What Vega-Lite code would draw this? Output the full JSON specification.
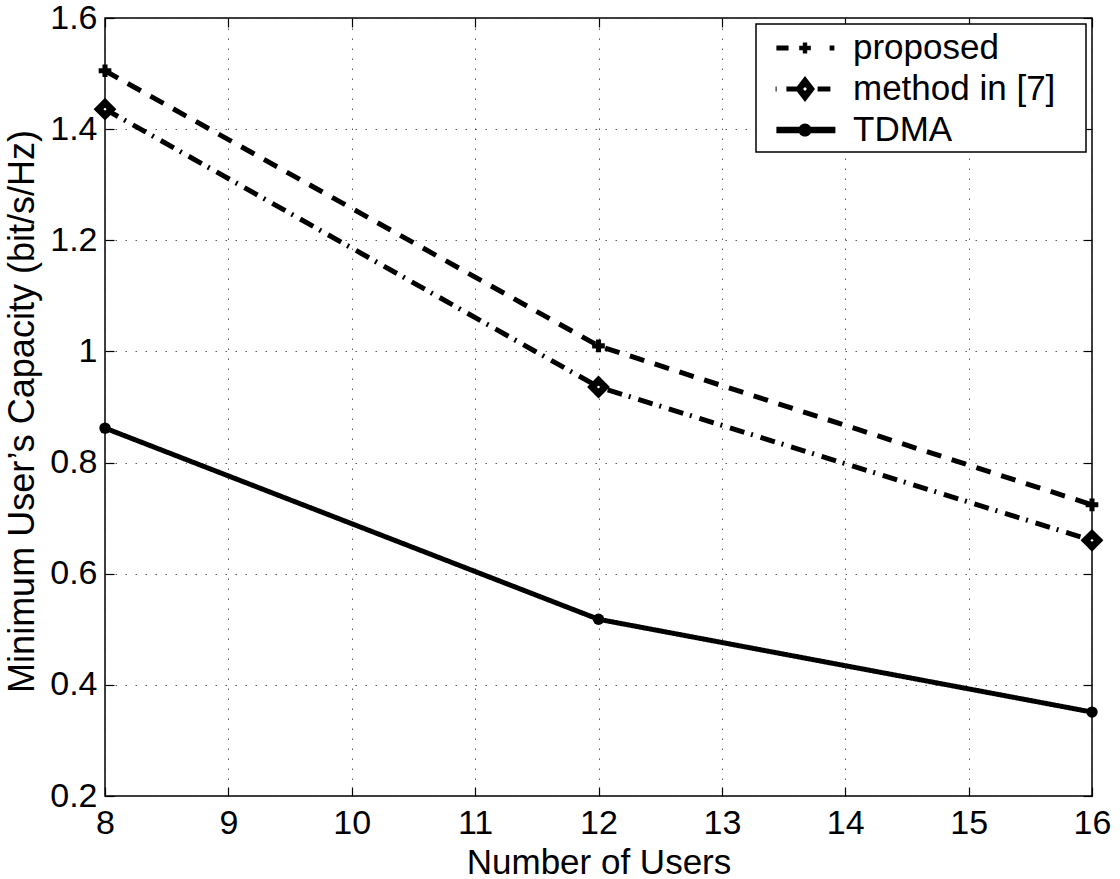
{
  "$schema": "https://vega.github.io/schema/vega-lite/v6.json",
  "width": 987,
  "height": 778,
  "autosize": {"type": "none"},
  "padding": {"left": 105, "top": 18, "right": 28, "bottom": 83},
  "background": "white",
  "config": {
    "font": "Liberation Sans",
    "view": {"stroke": "black", "strokeWidth": 1.5},
    "axis": {
      "labelFont": "Liberation Sans",
      "titleFont": "Liberation Sans",
      "labelFontSize": 34,
      "titleFontSize": 35,
      "titleFontWeight": "normal",
      "labelColor": "black",
      "titleColor": "black",
      "labelFlush": false,
      "labelOverlap": false,
      "domain": false,
      "tickColor": "black",
      "tickWidth": 1.2,
      "tickSize": -9,
      "gridColor": "#333",
      "gridDash": [1.5, 8.5],
      "gridWidth": 1,
      "gridOpacity": 0.8
    }
  },
  "data": {
    "values": [
      {"users": 8, "capacity": 1.505, "series": "proposed"},
      {"users": 12, "capacity": 1.01, "series": "proposed"},
      {"users": 16, "capacity": 0.724, "series": "proposed"},
      {"users": 8, "capacity": 1.436, "series": "method in [7]"},
      {"users": 12, "capacity": 0.936, "series": "method in [7]"},
      {"users": 16, "capacity": 0.66, "series": "method in [7]"},
      {"users": 8, "capacity": 0.862, "series": "TDMA"},
      {"users": 12, "capacity": 0.518, "series": "TDMA"},
      {"users": 16, "capacity": 0.351, "series": "TDMA"}
    ]
  },
  "layer": [
    {
      "mark": {"type": "line", "color": "black", "strokeWidth": 5, "strokeCap": "butt"},
      "encoding": {
        "x": {"field": "users", "type": "quantitative",
              "scale": {"domain": [8, 16], "nice": false, "zero": false},
              "axis": {"orient": "bottom", "values": [8,9,10,11,12,13,14,15,16], "format": "d",
                       "title": "Number of Users", "labelPadding": 19, "titlePadding": 5, "grid": true}},
        "y": {"field": "capacity", "type": "quantitative",
              "scale": {"domain": [0.2, 1.6], "nice": false, "zero": false},
              "axis": {"orient": "left", "values": [0.2,0.4,0.6,0.8,1,1.2,1.4,1.6], "format": "~g",
                       "title": "Minimum User’s Capacity (bit/s/Hz)", "titleFontSize": 36, "titleY": 393,
                       "labelPadding": 17, "titlePadding": 8, "grid": true}},
        "strokeDash": {"field": "series", "type": "nominal",
                       "scale": {"domain": ["proposed", "method in [7]", "TDMA"],
                                 "range": [[15, 11], [15, 7, 2, 8], [1, 0]]},
                       "legend": {
                         "title": null,
                         "orient": "top-right",
                         "offset": 6,
                         "padding": 4,
                         "strokeColor": "black",
                         "fillColor": "white",
                         "cornerRadius": 0,
                         "labelFont": "Liberation Sans",
                         "labelFontSize": 35,
                         "labelColor": "black",
                         "labelBaseline": "middle",
                         "labelLimit": 500,
                         "labelExpr": "datum.label + '\u2800'",
                         "symbolSize": 1600,
                         "symbolOffset": 25,
                         "labelOffset": 28,
                         "rowPadding": 3,
                         "symbolType": "circle",
                         "symbolFillColor": "black",
                         "symbolStrokeColor": "transparent",
                         "symbolStrokeWidth": 0,
                         "symbolOpacity": 1,
                         "symbolDash": [],
                         "encode": {
                           "legend": {"update": {"strokeWidth": {"value": 1.5}}},
                           "symbols": {
                             "update": {
                               "shape": {"signal": "datum.value == 'proposed' ? 'M-1.43,-0.13H-0.82V0.13H-1.43Z M-0.29,-0.11H0.29V0.11H-0.29Z M-0.11,-0.28H0.11V0.28H-0.11Z M1.23,-0.13H1.47V0.13H1.23Z' : datum.value == 'TDMA' ? 'M-1.43,-0.16H1.52V0.16H-1.43Z M-0.33,0 A0.33,0.33 0 1,1 0.33,0 A0.33,0.33 0 1,1 -0.33,0 Z' : 'M-1.47,-0.13H-1.42V0.13H-1.47Z M-0.93,-0.13H-0.4V0.13H-0.93Z M0,-0.65 L0.5,0 L0,0.65 L-0.5,0 Z M0,-0.1 L-0.1,0 L0,0.1 L0.1,0 Z M0.63,-0.13H1.27V0.13H0.63Z'"},
                               "size": {"value": 1600},
                               "fill": {"value": "black"},
                               "fillOpacity": {"value": 1},
                               "stroke": {"value": "transparent"},
                               "strokeWidth": {"value": 0},
                               "strokeDash": {"value": []},
                               "opacity": {"value": 1}
                             }
                           }
                         }
                       }}
      }
    },
    {
      "transform": [{"filter": "datum.series == 'proposed'"}],
      "mark": {"type": "point", "filled": true, "color": "black", "opacity": 1, "shape": "cross", "size": 160},
      "encoding": {
        "x": {"field": "users", "type": "quantitative", "axis": null},
        "y": {"field": "capacity", "type": "quantitative", "axis": null}
      }
    },
    {
      "transform": [{"filter": "datum.series == 'method in [7]'"}],
      "mark": {"type": "point", "filled": true, "color": "black", "opacity": 1, "shape": "diamond", "size": 520},
      "encoding": {
        "x": {"field": "users", "type": "quantitative", "axis": null},
        "y": {"field": "capacity", "type": "quantitative", "axis": null}
      }
    },
    {
      "transform": [{"filter": "datum.series == 'TDMA'"}],
      "mark": {"type": "point", "filled": true, "color": "black", "opacity": 1, "shape": "circle", "size": 130},
      "encoding": {
        "x": {"field": "users", "type": "quantitative", "axis": null},
        "y": {"field": "capacity", "type": "quantitative", "axis": null}
      }
    },
    {
      "transform": [{"filter": "datum.series == 'method in [7]'"}],
      "mark": {"type": "point", "filled": true, "color": "white", "opacity": 1, "shape": "circle", "size": 6},
      "encoding": {
        "x": {"field": "users", "type": "quantitative",
              "axis": {"orient": "top", "labels": false, "grid": false, "title": null, "values": [8,9,10,11,12,13,14,15,16]}},
        "y": {"field": "capacity", "type": "quantitative",
              "axis": {"orient": "right", "labels": false, "grid": false, "title": null, "values": [0.2,0.4,0.6,0.8,1,1.2,1.4,1.6]}}
      }
    }
  ],
  "resolve": {"axis": {"x": "independent", "y": "independent"}}
}
